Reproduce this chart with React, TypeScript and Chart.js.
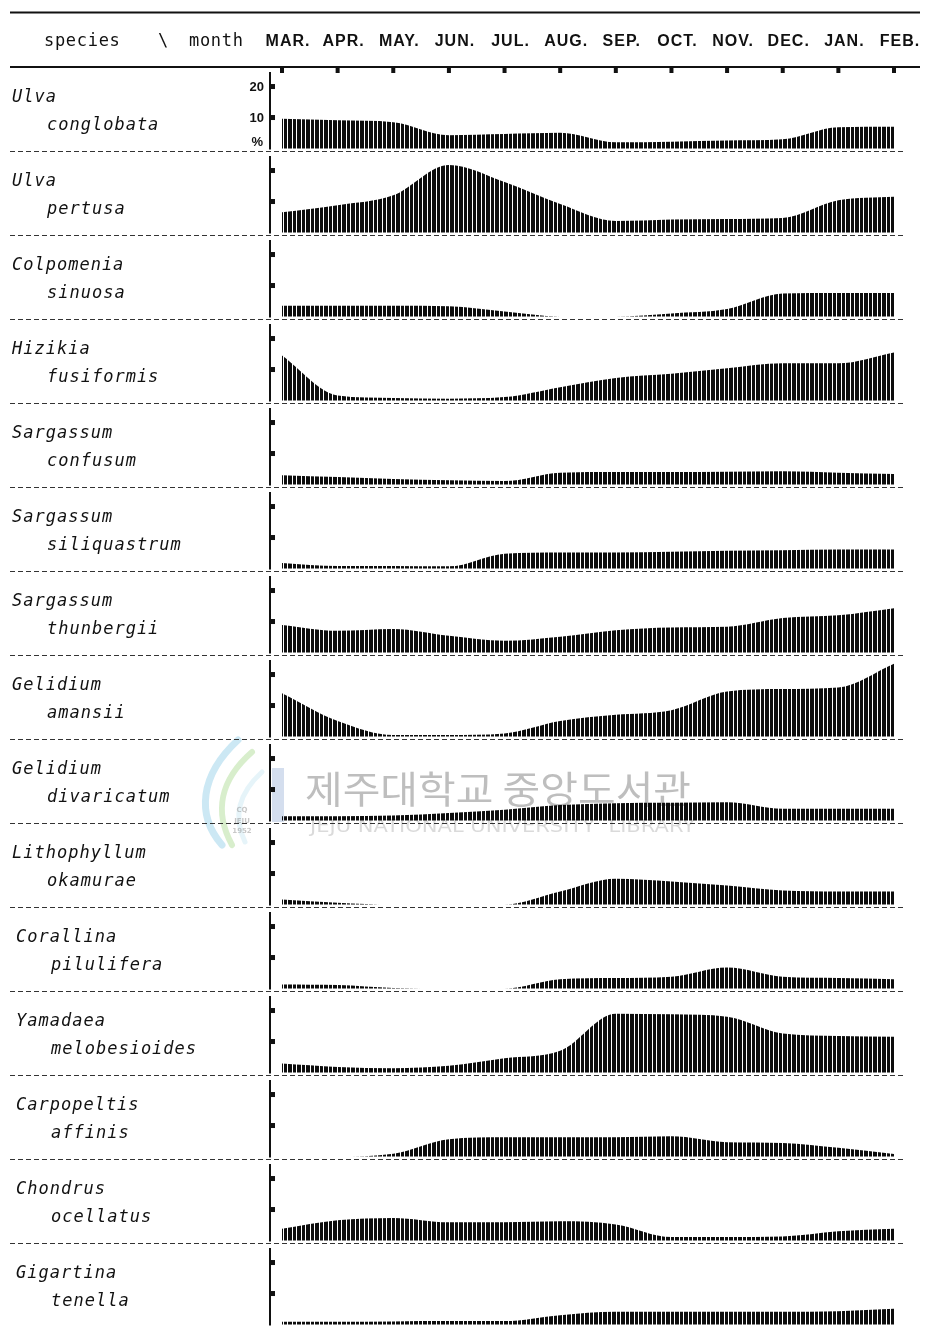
import { useEffect, useRef } from 'react';
import { Chart, registerables } from 'chart.js';

Chart.register(...registerables);

// Month columns, March through February
const months = ['MAR.', 'APR.', 'MAY.', 'JUN.', 'JUL.', 'AUG.', 'SEP.', 'OCT.', 'NOV.', 'DEC.', 'JAN.', 'FEB.'];

// Species names, split into genus / epithet lines
const genusNames = [
  'Ulva', 'Ulva', 'Colpomenia', 'Hizikia', 'Sargassum', 'Sargassum', 'Sargassum',
  'Gelidium', 'Gelidium', 'Lithophyllum', 'Corallina', 'Yamadaea', 'Carpopeltis', 'Chondrus', 'Gigartina',
];
const epithetNames = [
  'conglobata', 'pertusa', 'sinuosa', 'fusiformis', 'confusum', 'siliquastrum', 'thunbergii',
  'amansii', 'divaricatum', 'okamurae', 'pilulifera', 'melobesioides', 'affinis', 'ocellatus', 'tenella',
];

// Percent tick marks on every row
const percentTicks = [10, 20];

// Monthly coverage (%)
const ulvaConglobata = [9.6, 9.1, 8.5, 4.3, 4.7, 5.1, 2.0, 2.2, 2.6, 3.0, 6.9, 7.0];
const ulvaPertusa = [6.5, 8.8, 12.0, 21.8, 16.3, 9.2, 3.7, 4.2, 4.4, 4.7, 10.4, 11.5];
const colpomeniaSinuosa = [3.5, 3.5, 3.5, 3.3, 1.6, 0, 0, 1.0, 2.4, 7.4, 7.6, 7.6];
const hizikiaFusiformis = [14.5, 1.6, 0.8, 0.6, 1.1, 4.3, 7.3, 8.6, 10.4, 12.0, 12.0, 15.5];
const sargassumConfusum = [3.0, 2.4, 1.8, 1.4, 1.1, 3.8, 4.0, 4.0, 4.1, 4.3, 3.8, 3.4];
const sargassumSiliquastrum = [1.8, 0.8, 0.8, 0.7, 4.8, 5.2, 5.2, 5.4, 5.7, 5.9, 6.1, 6.1];
const sargassumThunbergii = [8.9, 7.0, 7.6, 5.4, 3.8, 5.1, 7.2, 8.1, 8.3, 11.1, 12.0, 14.3];
const gelidiumAmansii = [14.0, 5.0, 0.5, 0.5, 1.0, 5.0, 7.0, 8.5, 14.5, 15.3, 15.8, 23.5];
const gelidiumDivaricatum = [1.4, 1.4, 1.6, 2.4, 3.5, 5.0, 5.6, 5.7, 5.9, 3.8, 3.8, 3.8];
const lithophyllumOkamurae = [1.6, 0.6, 0, 0, 0, 4.2, 8.3, 7.4, 6.1, 4.5, 4.2, 4.2];
const corallinaPilulifera = [1.3, 1.1, 0.2, 0, 0, 3.0, 3.4, 3.8, 6.8, 3.8, 3.4, 3.0];
const yamadaeaMelobesioides = [2.9, 1.8, 1.4, 2.2, 4.6, 7.0, 19.0, 18.8, 18.0, 12.6, 11.8, 11.5];
const carpopeltisAffinis = [0, 0, 0.9, 5.6, 6.2, 6.2, 6.2, 6.5, 4.6, 4.4, 2.8, 0.8];
const chondrusOcellatus = [3.8, 6.5, 7.3, 5.9, 5.9, 6.2, 5.2, 1.1, 1.1, 1.3, 3.0, 3.8];
const gigartinaTenella = [0.9, 0.9, 1.0, 1.1, 1.1, 3.0, 4.1, 4.1, 4.1, 4.1, 4.3, 5.1];

const seriesValues = [
  ulvaConglobata, ulvaPertusa, colpomeniaSinuosa, hizikiaFusiformis, sargassumConfusum,
  sargassumSiliquastrum, sargassumThunbergii, gelidiumAmansii, gelidiumDivaricatum,
  lithophyllumOkamurae, corallinaPilulifera, yamadaeaMelobesioides, carpopeltisAffinis,
  chondrusOcellatus, gigartinaTenella,
];

const WIDTH = 927;
const HEIGHT = 1327;
const ROW_MIN = -0.8;
const ROW_MAX = 26.3;

// Dense vertical hatching used to fill every seasonal profile
function makeHatch(): CanvasPattern | string {
  const c = document.createElement('canvas');
  c.width = 9;
  c.height = 4;
  const g = c.getContext('2d');
  if (!g) return '#111';
  g.fillStyle = '#0c0c0c';
  g.fillRect(0, 0, 4, 4);
  g.fillRect(5, 0, 3, 4);
  return g.createPattern(c, 'repeat') ?? '#111';
}

function drawWatermark(ctx: CanvasRenderingContext2D) {
  ctx.save();
  // emblem
  ctx.globalAlpha = 0.45;
  ctx.lineCap = 'round';
  ctx.strokeStyle = '#8fcbe6';
  ctx.lineWidth = 7;
  ctx.beginPath();
  ctx.moveTo(222, 845);
  ctx.bezierCurveTo(196, 815, 200, 775, 238, 740);
  ctx.stroke();
  ctx.strokeStyle = '#a9d98f';
  ctx.lineWidth = 6;
  ctx.beginPath();
  ctx.moveTo(232, 845);
  ctx.bezierCurveTo(214, 812, 220, 780, 252, 752);
  ctx.stroke();
  ctx.strokeStyle = '#c7e7f2';
  ctx.lineWidth = 5;
  ctx.beginPath();
  ctx.moveTo(245, 842);
  ctx.bezierCurveTo(232, 815, 240, 792, 262, 772);
  ctx.stroke();
  ctx.fillStyle = '#9fb6da';
  ctx.fillRect(272, 768, 12, 54);
  ctx.globalAlpha = 0.55;
  ctx.fillStyle = '#9a9a9a';
  ctx.font = 'bold 7px "DejaVu Sans"';
  ctx.textAlign = 'center';
  ctx.fillText('CQ', 242, 812);
  ctx.fillText('JEJU', 242, 823);
  ctx.fillText('1952', 242, 833);

  // library name
  ctx.globalAlpha = 1;
  ctx.fillStyle = 'rgba(125,125,125,0.5)';
  ctx.textAlign = 'left';
  ctx.textBaseline = 'middle';
  ctx.font = '38px "Noto Sans CJK KR"';
  const ko = '제주대학교 중앙도서관';
  const koW = ctx.measureText(ko).width;
  ctx.save();
  ctx.translate(305, 789);
  ctx.scale(386 / koW, 1);
  ctx.fillText(ko, 0, 0);
  ctx.restore();
  ctx.fillStyle = 'rgba(150,150,150,0.35)';
  ctx.font = '17px "DejaVu Sans"';
  const en = 'JEJU NATIONAL UNIVERSITY  LIBRARY';
  const enW = ctx.measureText(en).width;
  ctx.save();
  ctx.translate(310, 828);
  ctx.scale(385 / enW, 1);
  ctx.fillText(en, 0, 0);
  ctx.restore();
  ctx.restore();
}

const sheetPlugin = {
  id: 'sheet',
  beforeDraw(chart: Chart) {
    const ctx = chart.ctx;
    ctx.save();
    ctx.fillStyle = '#ffffff';
    ctx.fillRect(0, 0, chart.width, chart.height);
    ctx.restore();
    drawWatermark(ctx);
  },
  afterDraw(chart: Chart) {
    const ctx = chart.ctx;
    const xs = chart.scales.x;
    const area = chart.chartArea;
    ctx.save();

    // header rules
    ctx.strokeStyle = '#111';
    ctx.lineWidth = 2;
    ctx.beginPath();
    ctx.moveTo(10, 12.5);
    ctx.lineTo(920, 12.5);
    ctx.moveTo(10, area.top);
    ctx.lineTo(920, area.top);
    ctx.stroke();

    // header captions
    ctx.fillStyle = '#111';
    ctx.textBaseline = 'middle';
    ctx.textAlign = 'left';
    ctx.font = '17px "DejaVu Sans Mono"';
    (ctx as any).letterSpacing = '0.7px';
    ctx.fillText('species', 44, 42);
    ctx.fillText('\\', 158, 42);
    ctx.fillText('month', 189, 42);

    ctx.font = 'bold 16px "Liberation Sans"';
    (ctx as any).letterSpacing = '1px';
    ctx.textAlign = 'center';
    months.forEach((m, i) => {
      const px = xs.getPixelForValue(i);
      ctx.fillText(m, px + 6, 42);
      ctx.fillRect(px - 2, area.top, 4, 6);
    });
    (ctx as any).letterSpacing = '0px';

    const axisX = area.left - 12;
    seriesValues.forEach((_, k) => {
      const ys = chart.scales['y' + k];
      const zero = ys.getPixelForValue(0);

      // row separator
      if (k < seriesValues.length - 1) {
        ctx.save();
        ctx.strokeStyle = '#333';
        ctx.lineWidth = 1;
        ctx.setLineDash([5, 3]);
        ctx.beginPath();
        ctx.moveTo(10, ys.bottom + 0.5);
        ctx.lineTo(905, ys.bottom + 0.5);
        ctx.stroke();
        ctx.restore();
      }

      // percent axis
      ctx.strokeStyle = '#111';
      ctx.lineWidth = 2;
      ctx.beginPath();
      ctx.moveTo(axisX, ys.top + 5);
      ctx.lineTo(axisX, zero + 1);
      ctx.stroke();
      percentTicks.forEach((t) => {
        const ty = ys.getPixelForValue(t);
        ctx.fillRect(axisX + 1, ty - 2.5, 4, 5);
      });
      if (k === 0) {
        ctx.font = 'bold 13px "Liberation Sans"';
        ctx.textAlign = 'right';
        percentTicks.forEach((t) => {
          ctx.fillText(String(t), axisX - 6, ys.getPixelForValue(t) + 0.5);
        });
        ctx.fillText('%', axisX - 7, zero - 6);
      }

      // species name
      const gx = k < 10 ? 12 : 16;
      ctx.font = 'italic 17px "DejaVu Sans Mono"';
      (ctx as any).letterSpacing = '1px';
      ctx.textAlign = 'left';
      ctx.fillText(genusNames[k], gx, ys.top + 30.5);
      ctx.fillText(epithetNames[k], gx + 35, ys.top + 58.5);
      (ctx as any).letterSpacing = '0px';
    });

    ctx.restore();
  },
};

export default function App() {
  const canvasRef = useRef<HTMLCanvasElement | null>(null);

  useEffect(() => {
    const canvas = canvasRef.current;
    if (!canvas) return;
    const hatch = makeHatch();

    const scales: Record<string, any> = {
      x: { type: 'category', display: false, offset: false },
    };
    seriesValues.forEach((_, k) => {
      scales['y' + k] = {
        type: 'linear',
        position: 'right',
        stack: 'rows',
        stackWeight: 1,
        weight: k,
        min: ROW_MIN,
        max: ROW_MAX,
        display: false,
      };
    });

    const chart = new Chart(canvas, {
      type: 'line',
      data: {
        labels: months,
        datasets: seriesValues.map((values, k) => ({
          label: genusNames[k] + ' ' + epithetNames[k],
          data: values,
          yAxisID: 'y' + k,
          fill: 'origin',
          backgroundColor: hatch as any,
          borderColor: 'rgba(0,0,0,0)',
          borderWidth: 0,
          pointRadius: 0,
          cubicInterpolationMode: 'monotone' as const,
        })),
      },
      options: {
        responsive: false,
        devicePixelRatio: 1,
        animation: false,
        events: [],
        layout: { padding: { left: 282, right: WIDTH - 894, top: 67, bottom: 0 } },
        plugins: { legend: { display: false }, tooltip: { enabled: false } },
        scales,
      },
      plugins: [sheetPlugin],
    });
    return () => chart.destroy();
  }, []);

  return (
    <div style={{ position: 'absolute', left: 0, top: 0, width: WIDTH, height: HEIGHT, background: '#fff' }}>
      <canvas ref={canvasRef} width={WIDTH} height={HEIGHT} style={{ display: 'block', width: WIDTH, height: HEIGHT }} />
    </div>
  );
}
